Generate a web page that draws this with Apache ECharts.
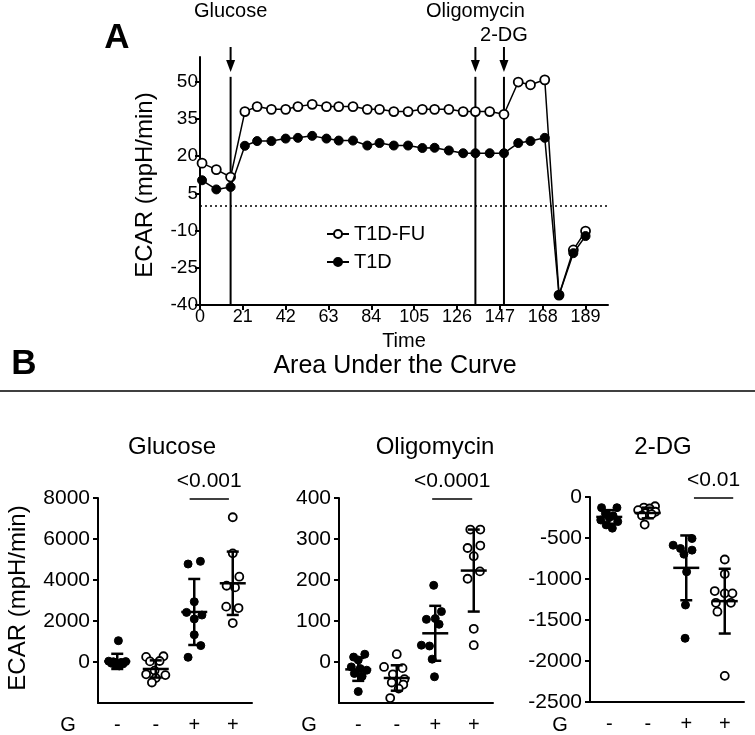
<!DOCTYPE html>
<html><head><meta charset="utf-8">
<script src="https://cdn.jsdelivr.net/npm/echarts@6.0.0/dist/echarts.min.js"></script>
<style>html,body{margin:0;padding:0;background:#fff}#c{width:755px;height:735px}</style>
</head><body><div id="c"></div>
<script>
// ---------- Panel A data ----------
const timeMin = [1,8,15,22,28,35,42,48,55,62,68,75,82,88,95,102,109,115,122,129,135,142,149,156,162,169,176,183,189];
const ecarT1DFU = [17.2,14.6,11.6,38,40,38.9,38.9,40,40.9,40,40,40,38.9,38.9,38,38,38.9,38.9,38.9,38,38,38,36.9,49.9,48.8,50.8,-36,-17.8,-10.2];
const ecarT1D = [10.3,6.6,7.6,24.2,26.1,26.1,27.1,27.4,28.2,27.1,26.3,26.3,24.3,25.3,24.3,24.3,23.3,23.4,22.3,21.2,21.2,21.2,21.2,25.3,26.1,27.4,-36,-19.1,-12.2];
const timeTicks = [0,21,42,63,84,105,126,147,168,189];
const ecarTicks = [-40,-25,-10,5,20,35,50];
const eventNames = ['Glucose','Oligomycin','2-DG'];
const eventTimes = [15,135,149];
const eventRow = [0,0,1];

// ---------- Panel B data ----------
const groupLabels = ['-','-','+','+'];
const panelTitles = ['Glucose','Oligomycin','2-DG'];
const pValues = ['<0.001','<0.0001','<0.01'];
const pBarFrom = [1.88,1.92,2.2];
const pBarTo = [2.9,2.96,3.22];

// Glucose AUC
const gluA = [1040,40,20,10,-20,-60,-90,-140,-190];
const gluAx = [0.03,-0.22,0.22,-0.1,0.1,-0.15,0.15,-0.04,0.05];
const gluB = [250,280,30,50,-420,-600,-640,-780,-1000];
const gluBx = [-0.25,0.2,-0.15,0.1,-0.03,-0.25,0.25,0.0,-0.1];
const gluC = [4780,4910,2940,2420,2100,2290,1330,800,230];
const gluCx = [-0.16,0.16,0,-0.2,0,0.2,0,0.17,-0.16];
const gluD = [7060,5300,4160,3720,3640,2700,2630,1900];
const gluDx = [0,0,0.17,-0.16,0.06,-0.17,0.15,0];
const gluMean = [30,-340,2440,3840];
const gluSD = [370,420,1610,1545];

// Oligomycin AUC
const oliA = [19,12,5,-12,-16,-20,-28,-35,-72];
const oliAx = [0.17,-0.12,0,-0.18,0.05,0.22,-0.1,0.1,0];
const oliB = [19,-12,-15,-30,-42,-50,-55,-65,-88];
const oliBx = [0,-0.33,0.15,-0.1,0.2,-0.13,0.17,0.05,-0.17];
const oliC = [187,123,104,106,92,41,39,7,-36];
const oliCx = [-0.04,0.16,-0.23,0,0.1,-0.36,-0.15,-0.08,-0.02];
const oliD = [323,323,278,284,258,203,221,81,41];
const oliDx = [-0.09,0.17,-0.16,0.17,0,-0.16,0.16,0,0];
const oliMean = [-18,-39,70,223];
const oliSD = [28,31,67,100];

// 2-DG AUC
const dgA = [-130,-130,-200,-230,-250,-280,-300,-340,-380];
const dgAx = [-0.2,0.2,-0.1,0.1,0,-0.22,0.22,-0.08,0.08];
const dgB = [-113,-129,-140,-160,-180,-195,-210,-225,-336];
const dgBx = [0.19,-0.1,0.05,-0.25,0.2,-0.05,0.1,-0.15,-0.08];
const dgC = [-506,-588,-628,-648,-697,-912,-1317,-1723];
const dgCx = [0.15,-0.34,-0.15,0.15,-0.06,0.01,-0.02,-0.03];
const dgD = [-762,-940,-1147,-1175,-1175,-1290,-1290,-1399,-2181];
const dgDx = [0,0,-0.26,0,0.2,-0.23,0.16,-0.19,0];
const dgMean = [-243,-195,-864,-1270];
const dgSD = [83,65,395,395];

const yMins = [-2000,-100,-2500];
const yMaxs = [8000,400,0];
const yTickVals = [[0,2000,4000,6000,8000],[0,100,200,300,400],[-2500,-2000,-1500,-1000,-500,0]];

const panels = [
  {groups:[[gluA,gluAx],[gluB,gluBx],[gluC,gluCx],[gluD,gluDx]], mean:gluMean, sd:gluSD},
  {groups:[[oliA,oliAx],[oliB,oliBx],[oliC,oliCx],[oliD,oliDx]], mean:oliMean, sd:oliSD},
  {groups:[[dgA,dgAx],[dgB,dgBx],[dgC,dgCx],[dgD,dgDx]], mean:dgMean, sd:dgSD}
];

// ---------- layout ----------
const FONT = '"Liberation Sans", Arial, sans-serif';
const panelLeft = [98,339,590];
const panelTop = [498,498,497];
const axisLine = {onZero:false, lineStyle:{color:'#000', width:2}};
const axisTick = {lineStyle:{color:'#000', width:2}, length:5};
const plain = v => String(v);

const grids = [{left:200, top:57, width:408, height:248}];
panelLeft.forEach((l,k)=>grids.push({left:l, top:panelTop[k], width:154, height:205}));

const xAxes = [{
  type:'value', gridIndex:0, min:0, max:200, name:'Time', nameLocation:'middle', nameGap:26,
  nameTextStyle:{fontFamily:FONT, fontSize:20, color:'#000'},
  axisLine, axisTick:Object.assign({customValues:timeTicks}, axisTick), splitLine:{show:false},
  axisLabel:{customValues:timeTicks, formatter:plain, fontFamily:FONT, fontSize:18, color:'#000', margin:3}
}];
const yAxes = [{
  type:'value', gridIndex:0, min:-40, max:60,
  axisLine:{show:true, onZero:false, lineStyle:{color:'#000', width:2}}, axisTick:Object.assign({show:true, customValues:ecarTicks}, axisTick), splitLine:{show:false},
  axisLabel:{customValues:ecarTicks, formatter:plain, fontFamily:FONT, fontSize:19, color:'#000', margin:2}
}];
panels.forEach((p,k)=>{
  xAxes.push({type:'category', gridIndex:k+1, data:groupLabels, boundaryGap:true,
    axisLine, axisTick:{alignWithLabel:true, lineStyle:{color:'#000', width:2}, length:6},
    axisLabel:{fontFamily:FONT, fontSize:20, color:'#000', margin:12}});
  xAxes.push({type:'value', gridIndex:k+1, min:-0.5, max:3.5, show:false});
  yAxes.push({type:'value', gridIndex:k+1, min:yMins[k], max:yMaxs[k],
    axisLine:{show:true, onZero:false, lineStyle:{color:'#000', width:2}},
    axisTick:Object.assign({show:true, customValues:yTickVals[k]}, axisTick), splitLine:{show:false},
    axisLabel:{customValues:yTickVals[k], formatter:plain, fontFamily:FONT, fontSize:21, color:'#000', margin:8}});
});

const series = [];
series.push({
  name:'T1D-FU', type:'line', xAxisIndex:0, yAxisIndex:0,
  data:timeMin.map((t,i)=>[t, ecarT1DFU[i]]),
  symbol:'circle', symbolSize:9, lineStyle:{color:'#000', width:1.5},
  itemStyle:{color:'#fff', borderColor:'#000', borderWidth:1.8, opacity:1}, z:3
});
series.push({
  name:'T1D', type:'line', xAxisIndex:0, yAxisIndex:0,
  data:timeMin.map((t,i)=>[t, ecarT1D[i]]),
  symbol:'circle', symbolSize:9, lineStyle:{color:'#000', width:1.5},
  itemStyle:{color:'#000', borderColor:'#000', borderWidth:1, opacity:1}, z:4,
  markLine:{silent:true, symbol:'none', label:{show:false},
    lineStyle:{color:'#000', type:[2,3], width:1.5}, data:[{yAxis:0}]}
});
series.push({
  type:'custom', xAxisIndex:0, yAxisIndex:0, clip:false, silent:true, z:2,
  data:eventTimes.map((t,i)=>[t, eventRow[i], i]),
  renderItem:(params, api)=>{
    const t = api.value(0), row = api.value(1), idx = api.value(2);
    const top = api.coord([t,60]);
    const a = api.coord([t,52]), b = api.coord([t,-40]);
    const x = a[0];
    return {type:'group', children:[
      {type:'line', shape:{x1:x, y1:a[1], x2:x, y2:b[1]}, style:{stroke:'#000', lineWidth:2}},
      {type:'line', shape:{x1:x, y1:top[1]-10, x2:x, y2:top[1]+6}, style:{stroke:'#000', lineWidth:2}},
      {type:'polygon', shape:{points:[[x-4.5,top[1]+3],[x+4.5,top[1]+3],[x,top[1]+15]]}, style:{fill:'#000'}},
      {type:'text', x:x, y:top[1]-(row===0?46:22), style:{text:eventNames[idx], textAlign:'center', textVerticalAlign:'middle', font:'20px '+FONT, fill:'#000'}}
    ]};
  }
});

function errRender(params, api){
  const x = api.value(0), m = api.value(1), s = api.value(2);
  const c = api.coord([x,m]), hi = api.coord([x,m+s]), lo = api.coord([x,m-s]);
  const st = {stroke:'#000', lineWidth:2.5};
  return {type:'group', children:[
    {type:'line', shape:{x1:c[0], y1:hi[1], x2:c[0], y2:lo[1]}, style:st},
    {type:'line', shape:{x1:c[0]-6, y1:hi[1], x2:c[0]+6, y2:hi[1]}, style:st},
    {type:'line', shape:{x1:c[0]-6, y1:lo[1], x2:c[0]+6, y2:lo[1]}, style:st},
    {type:'line', shape:{x1:c[0]-13, y1:c[1], x2:c[0]+13, y2:c[1]}, style:st}
  ]};
}

panels.forEach((p,k)=>{
  const xi = 2+2*k, yi = k+1;
  const filled = [], open = [];
  p.groups.forEach((g,gi)=>{
    g[0].forEach((v,j)=>{ (gi%2===0?filled:open).push([gi+g[1][j], v]); });
  });
  series.push({type:'scatter', xAxisIndex:xi, yAxisIndex:yi, data:filled, symbol:'circle', symbolSize:8,
    itemStyle:{color:'#000', borderColor:'#000', borderWidth:1, opacity:1}, z:2, silent:true});
  series.push({type:'scatter', xAxisIndex:xi, yAxisIndex:yi, data:open, symbol:'circle', symbolSize:8,
    itemStyle:{color:'#fff', borderColor:'#000', borderWidth:1.8, opacity:1}, z:2, silent:true});
  series.push({type:'custom', xAxisIndex:xi, yAxisIndex:yi, z:5, silent:true, clip:false,
    data:p.mean.map((m,i)=>[i, m, p.sd[i]]), renderItem:errRender});
  series.push({type:'custom', xAxisIndex:xi, yAxisIndex:yi, z:5, silent:true, clip:false,
    data:[[pBarFrom[k], pBarTo[k], yMaxs[k], k]],
    renderItem:(params, api)=>{
      const a = api.coord([api.value(0), api.value(2)]);
      const b = api.coord([api.value(1), api.value(2)]);
      return {type:'group', children:[
        {type:'line', shape:{x1:a[0], y1:a[1]+1, x2:b[0], y2:b[1]+1}, style:{stroke:'#000', lineWidth:1.3}},
        {type:'text', x:(a[0]+b[0])/2, y:a[1]-17, style:{text:pValues[api.value(3)], textAlign:'center', textVerticalAlign:'middle', font:'21px '+FONT, fill:'#000'}}
      ]};
    }});
});

const graphic = [
  {type:'text', x:117, y:38, style:{text:'A', textAlign:'center', textVerticalAlign:'middle', font:'bold 35px '+FONT, fill:'#000'}},
  {type:'text', x:24, y:364, style:{text:'B', textAlign:'center', textVerticalAlign:'middle', font:'bold 35px '+FONT, fill:'#000'}},
  {type:'text', x:395, y:366, style:{text:'Area Under the Curve', textAlign:'center', textVerticalAlign:'middle', font:'25px '+FONT, fill:'#000'}},
  {type:'line', shape:{x1:0, y1:391, x2:755, y2:391}, style:{stroke:'#000', lineWidth:1.5}},
  {type:'text', x:145, y:185, rotation:Math.PI/2, style:{text:'ECAR (mpH/min)', textAlign:'center', textVerticalAlign:'middle', font:'24px '+FONT, fill:'#000'}},
  {type:'text', x:18, y:598, rotation:Math.PI/2, style:{text:'ECAR (mpH/min)', textAlign:'center', textVerticalAlign:'middle', font:'24px '+FONT, fill:'#000'}}
];
const titleX = [172,435,663];
panelTitles.forEach((t,k)=>{
  graphic.push({type:'text', x:titleX[k], y:447, style:{text:t, textAlign:'center', textVerticalAlign:'middle', font:'24px '+FONT, fill:'#000'}});
  graphic.push({type:'text', x:panelLeft[k]-30, y:725, style:{text:'G', textAlign:'center', textVerticalAlign:'middle', font:'20px '+FONT, fill:'#000'}});
});

const chart = echarts.init(document.getElementById('c'), null, {renderer:'canvas'});
chart.setOption({
  animation:false,
  backgroundColor:'#fff',
  grid:grids, xAxis:xAxes, yAxis:yAxes, series,
  legend:{data:['T1D-FU','T1D'], orient:'vertical', left:321, top:219, itemWidth:22, itemHeight:10, itemGap:8,
    textStyle:{fontFamily:FONT, fontSize:20, color:'#000'}, selectedMode:false},
  graphic
});
</script></body></html>
